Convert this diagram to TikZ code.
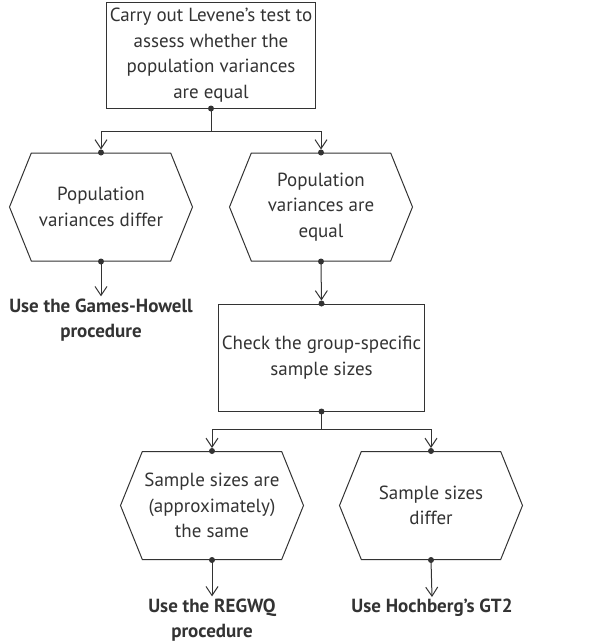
\documentclass[tikz,border=0pt]{standalone}
\usepackage{fontspec}
\setmainfont{PT Sans}
\usetikzlibrary{positioning, arrows.meta, shapes.symbols}
\definecolor{ink}{HTML}{333333}
\tikzset{
  stepbox/.style = {rectangle, draw=ink, line width=1pt, align=center, text=ink,
                    font=\fontsize{19}{25.5}\selectfont},
  hexa/.style    = {signal, signal to=west and east, signal pointer angle=136,
                    draw=ink, line width=1pt, align=center, text=ink,
                    minimum width=183pt, minimum height=108pt, inner sep=0pt,
                    font=\fontsize{19}{25.5}\selectfont},
  result/.style  = {align=center, text=ink, inner sep=2pt,
                    font=\bfseries\fontsize{19}{25.5}\selectfont},
  arr/.style     = {-{Straight Barb[length=9pt, width=12pt]}, draw=ink, line width=1pt},
  dot/.style     = {fill=ink}
}
\begin{document}
\begin{tikzpicture}[x=1pt, y=-1pt]
  \useasboundingbox (0,0) rectangle (608,643);
  \node[stepbox, minimum width=202pt, minimum height=106pt] (levene) at (211,55)
    {Carry out Levene’s test to\\assess whether the\\population variances\\are equal};
  \node[hexa] (differ) at (101,207) {Population\\variances differ};
  \node[hexa] (equal)  at (321,207) {Population\\variances are\\equal};
  \node[result] (gh) at (101,320) {Use the Games-Howell\\procedure};
  \node[stepbox, minimum width=195pt, minimum height=107pt] (check) at (321.5,357.5)
    {Check the group-specific\\sample sizes};
  \node[hexa] (same) at (212,505.5) {Sample sizes are\\(approximately)\\the same};
  \node[hexa] (sizediff) at (431,505.5) {Sample sizes\\differ};
  \node[result] (regwq) at (212,620) {Use the REGWQ\\procedure};
  \node[result] (gt2) at (432,608) {Use Hochberg’s GT2};

  \draw[arr, shorten >=3pt] (levene.south) -- ++(0,23) -| (differ.north);
  \draw[arr, shorten >=3pt] (levene.south) -- ++(0,23) -| (equal.north);
  \draw[arr] (differ.south) -- (gh.north);
  \draw[arr, shorten >=3pt] (equal.south) -- (check.north);
  \draw[arr, shorten >=3pt] (check.south) -- ++(0,18) -| (same.north);
  \draw[arr, shorten >=3pt] (check.south) -- ++(0,18) -| (sizediff.north);
  \draw[arr] (same.south) -- (regwq.north);
  \draw[arr] (sizediff.south) -- (gt2.north);

  \foreach \p in {levene.south, differ.north, equal.north, differ.south, equal.south,
                  check.north, check.south, same.north, sizediff.north,
                  same.south, sizediff.south}
    \fill[dot] (\p) circle (3pt);
\end{tikzpicture}
\end{document}
